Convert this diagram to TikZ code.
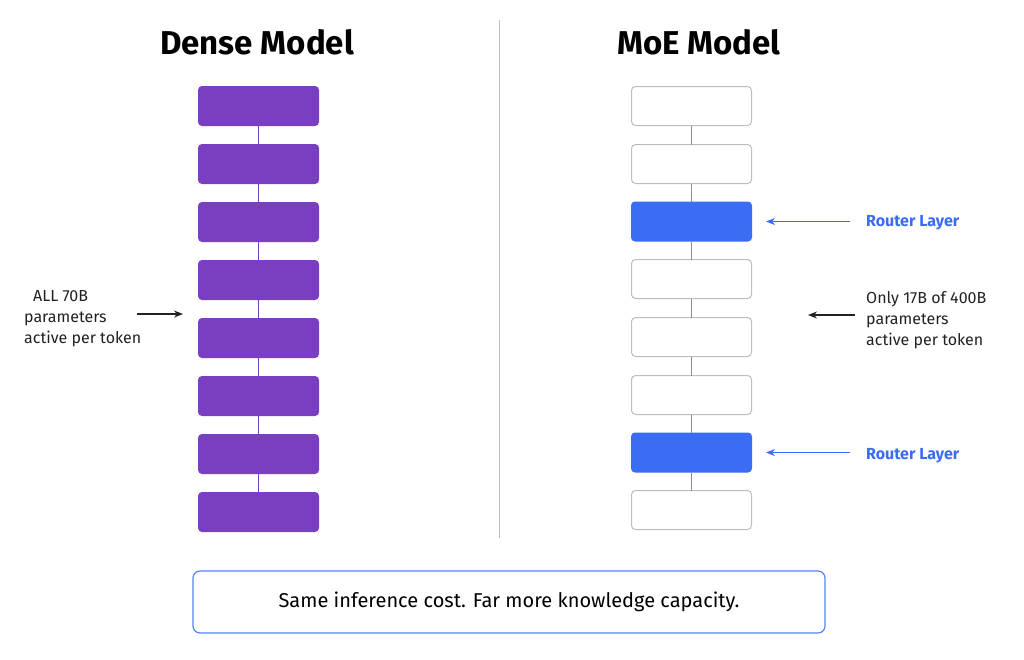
\documentclass[tikz,border=0pt]{standalone}
\usepackage{fontspec}
\setmainfont{Fira Sans}
\usepackage{tikz}
\usetikzlibrary{positioning, arrows.meta}
\usepackage{xcolor}
\definecolor{densepurple}{HTML}{7A3EC0}
\definecolor{routerblue}{HTML}{3B6CF4}
\definecolor{boxgrey}{HTML}{BDBDBD}
\definecolor{textdark}{HTML}{222222}

\begin{document}
\begin{tikzpicture}[
  x=1pt, y=-1pt,
  node distance = 18pt and 2.2cm,
  layer/.style  = {rectangle, rounded corners=4pt, minimum width=121pt,
                   minimum height=40pt, inner sep=0pt, outer sep=0pt},
  dense/.style  = {layer, fill=densepurple},
  expert/.style = {layer, draw=boxgrey, line width=1pt, fill=white,
                   minimum width=120pt, minimum height=39pt, node distance=19pt},
  router/.style = {layer, fill=routerblue},
  note/.style   = {font=\fontsize{16}{21}\selectfont, text=textdark,
                   align=left, inner sep=0pt},
  label/.style  = {note, text=routerblue, font=\fontsize{16}{21}\selectfont\bfseries},
  link/.style   = {line width=1.5pt},
  >={Stealth[length=9pt, width=7pt]}
]
\useasboundingbox[fill=white] (0,0) rectangle (1024,659);
% Titles
\node[font=\fontsize{33}{38}\selectfont\bfseries] (tdense) at (257,42) {Dense Model};
\node[font=\fontsize{33}{38}\selectfont\bfseries] (tmoe)   at (699,42) {MoE Model};
% Divider
\coordinate (divtop) at (499,20);
\coordinate (divbot) at (499,538);
\draw[boxgrey, line width=1pt] (divtop) -- (divbot);
% Dense column
\node[dense] (d1) at (258.5,106) {};
\node[dense, below=of d1] (d2) {};
\node[dense, below=of d2] (d3) {};
\node[dense, below=of d3] (d4) {};
\node[dense, below=of d4] (d5) {};
\node[dense, below=of d5] (d6) {};
\node[dense, below=of d6] (d7) {};
\node[dense, below=of d7] (d8) {};
% MoE column
\node[expert] (m1) at (691.5,106) {};
\node[expert, below=of m1] (m2) {};
\node[router, below=18pt of m2] (m3) {};
\node[expert, below=18pt of m3] (m4) {};
\node[expert, below=of m4] (m5) {};
\node[expert, below=of m5] (m6) {};
\node[router, below=18pt of m6] (m7) {};
\node[expert, below=18pt of m7] (m8) {};
% Dense links
\draw[link, densepurple] (d1) -- (d2);
\draw[link, densepurple] (d2) -- (d3);
\draw[link, densepurple] (d3) -- (d4);
\draw[link, densepurple] (d4) -- (d5);
\draw[link, densepurple] (d5) -- (d6);
\draw[link, densepurple] (d6) -- (d7);
\draw[link, densepurple] (d7) -- (d8);
% MoE links
\draw[link, boxgrey!75!black] (m1) -- (m2);
\draw[link, boxgrey!75!black] (m2) -- (m3);
\draw[link, boxgrey!75!black] (m3) -- (m4);
\draw[link, boxgrey!75!black] (m4) -- (m5);
\draw[link, boxgrey!75!black] (m5) -- (m6);
\draw[link, boxgrey!75!black] (m6) -- (m7);
\draw[link, boxgrey!75!black] (m7) -- (m8);
% Left note
\node[note, anchor=west] (lnote) at (24,319) {\hspace{9pt}ALL 70B\\parameters\\active per token};
\coordinate (ltip) at (183,314);
\draw[->, textdark, line width=1.3pt, shorten <=-4pt] (lnote.east |- ltip) -- (ltip);
% Right note
\node[note, anchor=west] (rnote) at (866,320) {Only 17B of 400B\\parameters\\active per token};
\coordinate (rtip) at (808,315);
\draw[->, textdark, line width=1.3pt, shorten <=11pt] (rnote.west |- rtip) -- (rtip);
% Router labels
\node[label, anchor=west] (r1) at (866,223) {Router Layer};
\node[label, anchor=west] (r2) at (866,456) {Router Layer};
\draw[->, routerblue, line width=1.2pt, shorten <=16pt] (r1.west |- m3.east) -- ([xshift=14pt]m3.east);
\draw[->, routerblue, line width=1.2pt, shorten <=16pt] (r2.west |- m7.east) -- ([xshift=14pt]m7.east);
% Summary
\node[draw=routerblue!85, line width=1.2pt, rounded corners=7pt, minimum width=632pt,
      minimum height=62pt, font=\fontsize{20}{24}\selectfont, text=black] (summary) at (509,602)
      {Same inference cost. Far more knowledge capacity.};
\end{tikzpicture}
\end{document}
